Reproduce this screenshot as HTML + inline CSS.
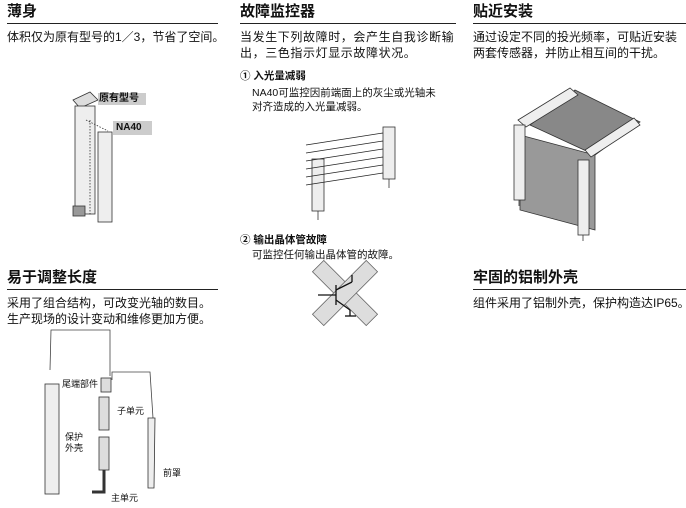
<!DOCTYPE html><html><head><meta charset="utf-8"><style>
body{margin:0;width:686px;height:508px;background:#fff;position:relative;overflow:hidden;font-family:"Liberation Sans","Noto Sans CJK SC",sans-serif;color:#111}
.h{position:absolute;font-size:15px;font-weight:bold;line-height:18px;border-bottom:1.3px solid #222;padding-bottom:2px}
.t{position:absolute;font-size:12px;line-height:16px;white-space:nowrap}
.s{position:absolute;font-size:10.5px;line-height:14px;white-space:nowrap}
svg{position:absolute;left:0;top:0}
</style></head><body>
<div class="h" style="left:7px;top:3px;width:211px">薄身</div>
<div class="t" style="left:7px;top:29px">体积仅为原有型号的1／3，节省了空间。</div>

<div class="h" style="left:240px;top:3px;width:216px">故障监控器</div>
<div class="t" style="left:240px;top:29px;letter-spacing:0.6px">当发生下列故障时，会产生自我诊断输<br>出，三色指示灯显示故障状况。</div>
<div class="s" style="left:240px;top:69px;font-weight:bold">① 入光量减弱</div>
<div class="s" style="left:252px;top:86px">NA40可监控因前端面上的灰尘或光轴未<br>对齐造成的入光量减弱。</div>
<div class="s" style="left:240px;top:233px;font-weight:bold">② 输出晶体管故障</div>
<div class="s" style="left:252px;top:248px">可监控任何输出晶体管的故障。</div>

<div class="h" style="left:473px;top:3px;width:213px">贴近安装</div>
<div class="t" style="left:473px;top:29px">通过设定不同的投光频率，可贴近安装<br>两套传感器，并防止相互间的干扰。</div>

<div class="h" style="left:7px;top:269px;width:211px">易于调整长度</div>
<div class="t" style="left:7px;top:295px">采用了组合结构，可改变光轴的数目。<br>生产现场的设计变动和维修更加方便。</div>

<div class="h" style="left:473px;top:269px;width:213px">牢固的铝制外壳</div>
<div class="t" style="left:473px;top:295px">组件采用了铝制外壳，保护构造达IP65。</div>

<svg width="686" height="508" viewBox="0 0 686 508" fill="none" stroke="#333" stroke-width="0.8">
<!-- col1 sensors -->
<path d="M73 100 L90 92 L98 100 L80 108 Z" fill="#ddd"/>
<rect x="75" y="106" width="20" height="108" fill="#eee"/>
<rect x="73" y="206" width="12" height="10" fill="#999"/>
<rect x="98" y="132" width="14" height="90" fill="#eee"/>
<g stroke-dasharray="1.5,1.5"><line x1="86" y1="120" x2="108" y2="131"/><line x1="90" y1="120" x2="90" y2="215"/></g>
<rect x="98" y="93" width="48" height="12" fill="#ccc" stroke="none"/>
<rect x="113" y="121" width="39" height="14" fill="#ccc" stroke="none"/>
<!-- col2 beams -->
<rect x="383" y="127" width="12" height="52" fill="#eee"/>
<rect x="312" y="159" width="12" height="52" fill="#eee"/>
<g stroke="#222"><line x1="383" y1="133" x2="306" y2="145"/><line x1="383" y1="141" x2="306" y2="153"/><line x1="383" y1="149" x2="306" y2="161"/><line x1="383" y1="157" x2="306" y2="169"/><line x1="383" y1="165" x2="306" y2="177"/><line x1="383" y1="173" x2="306" y2="185"/></g>
<line x1="389" y1="179" x2="389" y2="188"/><line x1="318" y1="211" x2="318" y2="220"/>
<!-- X -->
<g transform="translate(345 293)" fill="#ddd" stroke="#666">
<rect x="-38" y="-8" width="76" height="16" transform="rotate(45)"/>
<rect x="-38" y="-8" width="76" height="16" transform="rotate(-45)"/>
<rect x="-7.5" y="-7.5" width="15" height="15" transform="rotate(45)" stroke="none"/>
</g>
<g stroke="#111" stroke-width="1.3"><line x1="318" y1="295" x2="336" y2="295"/><line x1="336" y1="285" x2="336" y2="305"/><line x1="336" y1="290" x2="352" y2="282"/><line x1="352" y1="282" x2="352" y2="275"/><line x1="336" y1="300" x2="350" y2="310"/><line x1="350" y1="310" x2="350" y2="316"/><line x1="345" y1="316" x2="356" y2="316"/></g>
<!-- col3 -->
<path d="M530 125 L575 90 L640 122 L595 155 Z" fill="#888"/>
<path d="M520 135 L595 155 L595 230 L520 210 Z" fill="#999"/>
<path d="M518 120 L570 88 L578 95 L526 127 Z" fill="#eee"/>
<path d="M585 150 L634 118 L640 125 L591 157 Z" fill="#eee"/>
<rect x="514" y="125" width="11" height="75" fill="#eee"/>
<rect x="578" y="160" width="11" height="75" fill="#eee"/>
<line x1="519" y1="200" x2="519" y2="206"/><line x1="583" y1="235" x2="583" y2="241"/>
<!-- col1 bottom -->
<path d="M50 370 L51 330 L110 330 L110 376" stroke="#444"/>
<path d="M112 380 L112 372 L150 372 L153 418" stroke="#444"/>
<rect x="45" y="384" width="14" height="110" fill="#eee"/>
<rect x="101" y="378" width="10" height="14" fill="#ddd"/>
<rect x="99" y="397" width="10" height="33" fill="#ddd"/>
<rect x="99" y="437" width="10" height="33" fill="#ddd"/>
<path d="M104 470 L104 492 L92 492" stroke-width="3"/>
<path d="M148 418 L155 418 L154 488 L148 488 Z" fill="#eee"/>
</svg>
<div class="s" style="left:62px;top:377px;font-size:9px">尾端部件</div>
<div class="s" style="left:117px;top:404px;font-size:9px">子单元</div>
<div class="s" style="left:65px;top:432px;font-size:9px;line-height:11px">保护<br>外壳</div>
<div class="s" style="left:163px;top:466px;font-size:9px">前罩</div>
<div class="s" style="left:111px;top:491px;font-size:9px">主单元</div>
<div class="s" style="left:99px;top:92px;font-weight:bold;font-size:10px">原有型号</div>
<div class="s" style="left:116px;top:121px;font-weight:bold;font-size:10px">NA40</div>
</body></html>
